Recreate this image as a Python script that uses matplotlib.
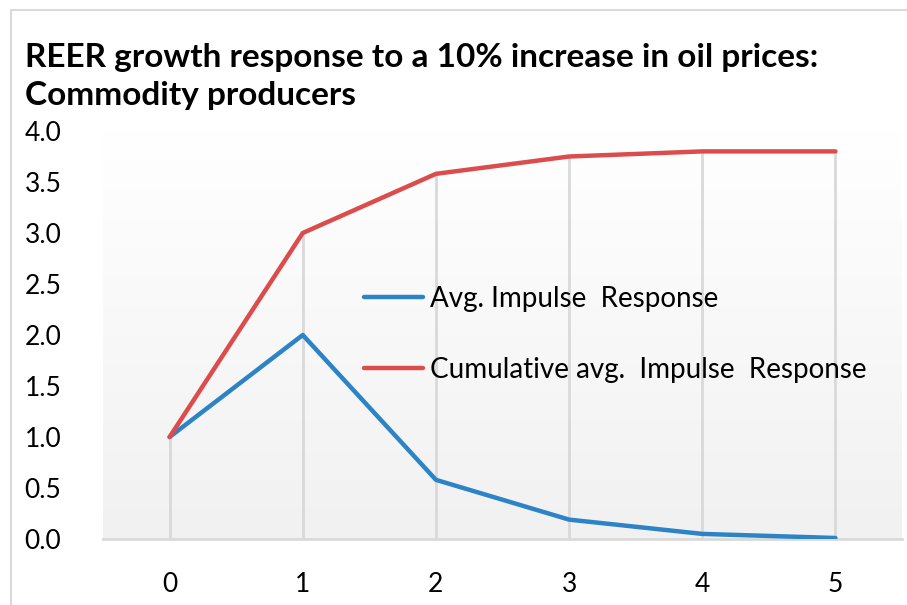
import numpy as np
import matplotlib
matplotlib.use("Agg")
import matplotlib.pyplot as plt
from matplotlib.patches import Rectangle

# impulse response data, horizon in years
periods = [0, 1, 2, 3, 4, 5]
avg_response = [1.0, 2.0, 0.58, 0.19, 0.05, 0.01]
cum_response = [1.0, 3.0, 3.58, 3.75, 3.80, 3.80]
y_ticks = [0.0, 0.5, 1.0, 1.5, 2.0, 2.5, 3.0, 3.5, 4.0]

plt.rcParams['font.family'] = ['Lato', 'DejaVu Sans']

W, H = 907, 605
fig = plt.figure(figsize=(W / 100, H / 100), dpi=100)

# chart frame (light border on top / left)
fig.patches.append(Rectangle((11 / W, -0.1), 1.2, 1 - 10 / H + 0.1, transform=fig.transFigure,
                             fill=False, edgecolor='#d9d9d9', linewidth=1.5))

ax = fig.add_axes([103 / W, 1 - 539 / H, (902 - 103) / W, (539 - 131) / H])
ax.set_xlim(-0.5, 5.5)
ax.set_ylim(0, 4)

# vertical gradient in the plot area
grad = np.linspace(1.0, 0.0, 256).reshape(-1, 1)
ax.imshow(grad, extent=[-0.5, 5.5, 0, 4], aspect='auto', origin='lower',
          cmap=matplotlib.colors.LinearSegmentedColormap.from_list('bg', ['#ffffff', '#f1f1f1']),
          zorder=0)

# drop lines from the top series down to the axis
tops = np.maximum(avg_response, cum_response)
ax.vlines(periods, 0, tops, colors='#d9d9d9', linewidth=2, zorder=1)

ax.plot(periods, avg_response, color='#2C83C6', linewidth=3.2, solid_capstyle='round',
        label='Avg. Impulse  Response', zorder=3)
ax.plot(periods, cum_response, color='#DD4C4C', linewidth=3.2, solid_capstyle='round',
        label='Cumulative avg.  Impulse  Response', zorder=3)

for s in ['top', 'left', 'right']:
    ax.spines[s].set_visible(False)
ax.spines['bottom'].set_color('#d9d9d9')
ax.spines['bottom'].set_linewidth(2)

ax.set_xticks(periods)
ax.set_yticks(y_ticks)
ax.set_yticklabels([f'{v:.1f}' for v in y_ticks])
ax.tick_params(axis='both', length=0, labelsize=19, colors='black')
ax.tick_params(axis='x', pad=24)
ax.tick_params(axis='y', pad=30)

leg = ax.legend(loc='upper left', bbox_to_anchor=(0.295, 0.681), frameon=False,
                fontsize=20, handlelength=2.15, handletextpad=0.25, labelspacing=1.6)

fig.text(25 / W, 1 - 57 / H, 'REER growth response to a 10% increase in oil prices:',
         fontsize=24, fontweight='bold', va='center', ha='left')
fig.text(25 / W, 1 - 95 / H, 'Commodity producers',
         fontsize=24, fontweight='bold', va='center', ha='left')

fig.savefig('out.png', dpi=100)
